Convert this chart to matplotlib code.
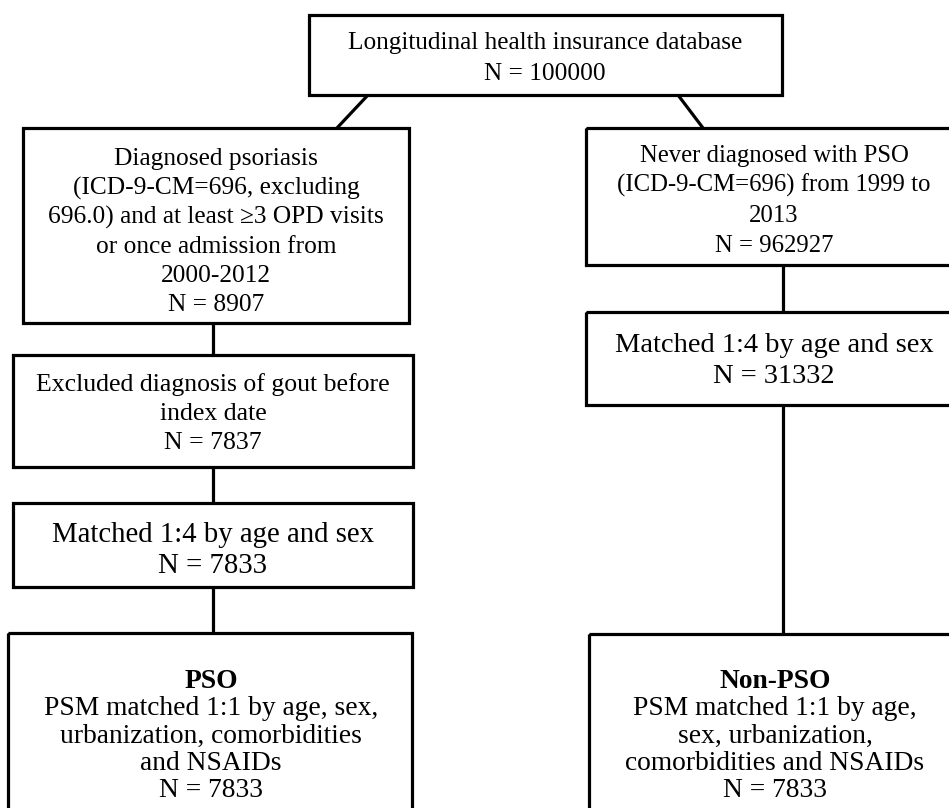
import matplotlib.pyplot as plt
from matplotlib.patches import Rectangle

# box texts and counts
counts = [100000, 8907, 7837, 7833, 7833, 962927, 31332, 7833]
texts = [
    ["Longitudinal health insurance database"],
    ["Diagnosed psoriasis", "(ICD-9-CM=696, excluding",
     "696.0) and at least \u22653 OPD visits", "or once admission from", "2000-2012"],
    ["Excluded diagnosis of gout before", "index date"],
    ["Matched 1:4 by age and sex"],
    ["PSM matched 1:1 by age, sex,", "urbanization, comorbidities", "and NSAIDs"],
    ["Never diagnosed with PSO", "(ICD-9-CM=696) from 1999 to", "2013"],
    ["Matched 1:4 by age and sex"],
    ["PSM matched 1:1 by age,", "sex, urbanization,", "comorbidities and NSAIDs"],
]
titles = [None, None, None, None, "PSO", None, None, "Non-PSO"]

# layout in pixels: x0, x1, y0, y1, text centre x, first baseline, line step, font size
layout = [
    (309, 782, 15, 95, 545, 49, 31, 18.2),
    (23, 409, 128, 323, 216, 165, 29.2, 18.3),
    (13, 413, 355, 467, 213, 391, 29, 18.5),
    (13, 413, 503, 587, 213, 542, 31, 20.7),
    (8, 412, 633, 830, 211, 688, 27.3, 19.8),
    (586, 990, 128, 265, 774, 162, 30, 17.8),
    (586, 990, 312, 405, 774, 352, 31, 20.5),
    (589, 990, 634, 830, 775, 688, 27.3, 19.8),
]

links = [
    ((368, 95), (337, 128)),
    ((678, 95), (703, 128)),
    ((213, 323), (213, 355)),
    ((213, 467), (213, 503)),
    ((213, 587), (213, 633)),
    ((783, 265), (783, 312)),
    ((783, 405), (783, 634)),
]

plt.rcParams['font.family'] = ['Liberation Serif', 'DejaVu Serif']

fig = plt.figure(figsize=(9.49, 8.08), dpi=100)
ax = fig.add_axes([0, 0, 1, 1])
ax.set_xlim(0, 949)
ax.set_ylim(808, 0)
ax.axis('off')

lw = 2.3
for i, (x0, x1, y0, y1, xc, yb, step, fs) in enumerate(layout):
    ax.add_patch(Rectangle((x0, y0), x1 - x0, y1 - y0, fill=False,
                           edgecolor='black', linewidth=lw, clip_on=True))
    lines = list(texts[i]) + ["N = %d" % counts[i]]
    y = yb
    if titles[i]:
        ax.text(xc, y, titles[i], ha='center', va='baseline', fontsize=fs,
                fontweight='bold')
        y += step
    for ln in lines:
        ax.text(xc, y, ln, ha='center', va='baseline', fontsize=fs)
        y += step

for (xa, ya), (xb, yb2) in links:
    ax.plot([xa, xb], [ya, yb2], color='black', linewidth=lw,
            solid_capstyle='butt')

fig.savefig('out.png', dpi=100)
